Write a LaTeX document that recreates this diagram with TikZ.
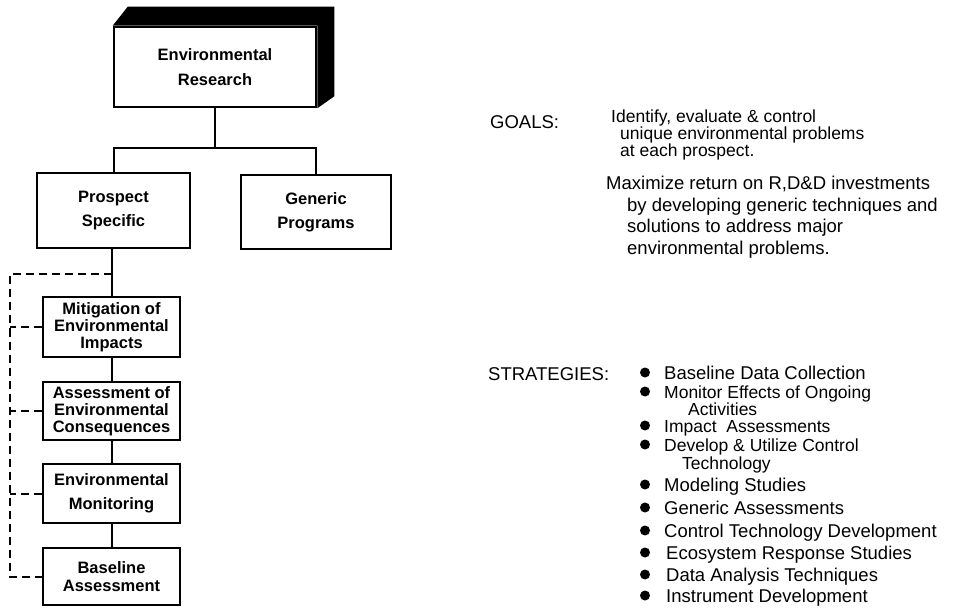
\documentclass[tikz,border=0pt]{standalone}
\usepackage{fontspec}
\setmainfont{Liberation Sans}
\usetikzlibrary{positioning}

\begin{document}
\begin{tikzpicture}[x=1pt, y=-1pt,
    unit/.style={draw, line width=2.6pt, rectangle, fill=white, inner sep=0pt, align=center, font=\fontsize{16.5}{17}\selectfont\bfseries},
    link/.style={line width=2pt},
    feed/.style={line width=2pt, dash pattern=on 8pt off 5pt},
    dot/.style={circle, fill, inner sep=0pt, minimum size=10pt},
    body/.style={anchor=base west, inner sep=0pt, font=\fontsize{18.5}{19}\selectfont},
    tight/.style={body, font=\fontsize{17.5}{18}\selectfont}]

    \useasboundingbox (0,0) rectangle (979,609);

    % Top block, with its solid top and side faces
    \node[unit, minimum width=202pt, minimum height=80pt] (research) at (215,67) {Environmental\\[8pt]Research};
    \fill (research.north west) -- ++(15,-19) -- ([shift={(17,-19)}]research.north east)
        -- ([shift={(17,-12)}]research.south east) -- (research.south east) -- (research.north east) -- cycle;

    % Second level
    \node[unit, minimum width=153pt, minimum height=75pt] (prospect) at (113.5,210.5) {Prospect\\[7pt]Specific};
    \node[unit, minimum width=150pt, minimum height=74pt] (generic) at (316,212) {Generic\\[7pt]Programs};

    % Prospect specific chain
    \node[unit, minimum width=137pt, minimum height=60pt] (mitigation) at (111.5,327) {Mitigation of\\Environmental\\Impacts};
    \node[unit, minimum width=137pt, minimum height=58pt] (assessment) at (111.5,411) {Assessment of\\Environmental\\Consequences};
    \node[unit, minimum width=137pt, minimum height=59pt] (monitoring) at (111.5,493.5) {Environmental\\[7pt]Monitoring};
    \node[unit, minimum width=137pt, minimum height=57pt] (baseline) at (111.5,576.5) {Baseline\\[1pt]Assessment};

    % Connections
    \coordinate (split) at (215,148);
    \draw[link] (research) -- (split);
    \draw[link] (prospect.north) |- (split) -| (generic.north);
    \draw[link] (mitigation.north |- prospect.south) -- (mitigation.north);
    \draw[link] (mitigation) -- (assessment);
    \draw[link] (assessment) -- (monitoring);
    \draw[link] (monitoring) -- (baseline);

    % Dashed feedback rail
    \coordinate (tap) at (111.5,274);
    \coordinate (rail) at (10,274);
    \draw[feed] (tap) -- (rail) |- (baseline.west);
    \draw[feed] (mitigation.west) -- (mitigation.west -| rail);
    \draw[feed] (assessment.west) -- (assessment.west -| rail);
    \draw[feed] (monitoring.west) -- (monitoring.west -| rail);

    % Goals
    \node[body] (goals) at (490,129) {GOALS:};
    \node[tight] (aim1) at (611,123) {Identify, evaluate \& control};
    \node[tight] (aim1b) at (620,140) {unique environmental problems};
    \node[tight] (aim1c) at (620,157) {at each prospect.};
    \node[body] (aim2) at (606,190) {Maximize return on R,D\&D investments};
    \node[body] (aim2b) at (627,212) {by developing generic techniques and};
    \node[body] (aim2c) at (627,233) {solutions to address major};
    \node[body] (aim2d) at (627,255) {environmental problems.};

    % Strategies
    \node[body] (strategies) at (488,380) {STRATEGIES:};
    \node[dot] (s1) at (645,372.5) {};
    \node[body] (t1) at (664,379) {Baseline Data Collection};
    \node[dot] (s2) at (645,391.5) {};
    \node[tight] (t2) at (664,398) {Monitor Effects of Ongoing};
    \node[tight] (t2b) at (688,415) {Activities};
    \node[dot] (s3) at (645,425.5) {};
    \node[tight] (t3) at (664,432) {Impact \ Assessments};
    \node[dot] (s4) at (645,444.5) {};
    \node[tight] (t4) at (664,451) {Develop \& Utilize Control};
    \node[tight] (t4b) at (682,469) {Technology};
    \node[dot] (s5) at (645,484.5) {};
    \node[body] (t5) at (664,491) {Modeling Studies};
    \node[dot] (s6) at (645,507.5) {};
    \node[body] (t6) at (664,514) {Generic Assessments};
    \node[dot] (s7) at (645,530.5) {};
    \node[body] (t7) at (664,537) {Control Technology Development};
    \node[dot] (s8) at (645,552.5) {};
    \node[body] (t8) at (666,559) {Ecosystem Response Studies};
    \node[dot] (s9) at (645,574.5) {};
    \node[body] (t9) at (666,581) {Data Analysis Techniques};
    \node[dot] (s10) at (645,595.5) {};
    \node[body] (t10) at (666,602) {Instrument Development};

\end{tikzpicture}
\end{document}
